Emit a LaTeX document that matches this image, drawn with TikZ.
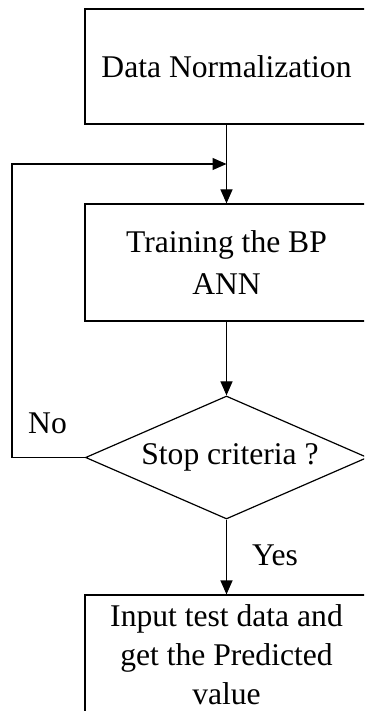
\documentclass[tikz,border=0pt]{standalone}
\usepackage{fontspec}
\setmainfont{Liberation Serif}
\usetikzlibrary{arrows.meta,shapes.geometric}
\begin{document}
\begin{tikzpicture}[x=1pt,y=-1pt,
  every node/.style={font=\fontsize{31.6pt}{40pt}\selectfont, text=black},
  box/.style={draw, line width=1.2pt, minimum width=283pt, inner sep=0pt, align=center},
  arr/.style={line width=1.2pt, -{Triangle[length=14pt,width=12pt]}},
  line/.style={line width=1.2pt}]
\useasboundingbox (0,0) rectangle (364,711);
\clip (0,0) rectangle (364,711);
\fill[white] (0,0) rectangle (364,711);
\node[box, minimum height=115pt] (b1) at (226.5,66.5) {Data Normalization};
\node[box, minimum height=117pt, font=\fontsize{31.6pt}{42pt}\selectfont] (b2) at (226.5,262.5) {Training the BP\\ANN};
\node[draw, line width=1.2pt, diamond, aspect=2.29, inner sep=0pt, minimum width=282pt, minimum height=123pt] (dec) at (226.5,457.5) {\hspace{7pt}Stop criteria ?};
\node[box, minimum height=120pt, font=\fontsize{31.6pt}{39pt}\selectfont] (b3) at (226.5,655) {Input test data and\\get the Predicted\\value};
\coordinate (join) at (226.5,164);
\coordinate (corner) at (12,164);
\node (no) at (47.5,423) {No};
\node (yes) at (275,555) {Yes};
\draw[arr] (b1) -- (b2);
\draw[arr] (b2) -- (dec);
\draw[arr] (dec) -- (b3);
\draw[arr] (dec.west) -| (corner) -- (join);
\end{tikzpicture}
\end{document}
